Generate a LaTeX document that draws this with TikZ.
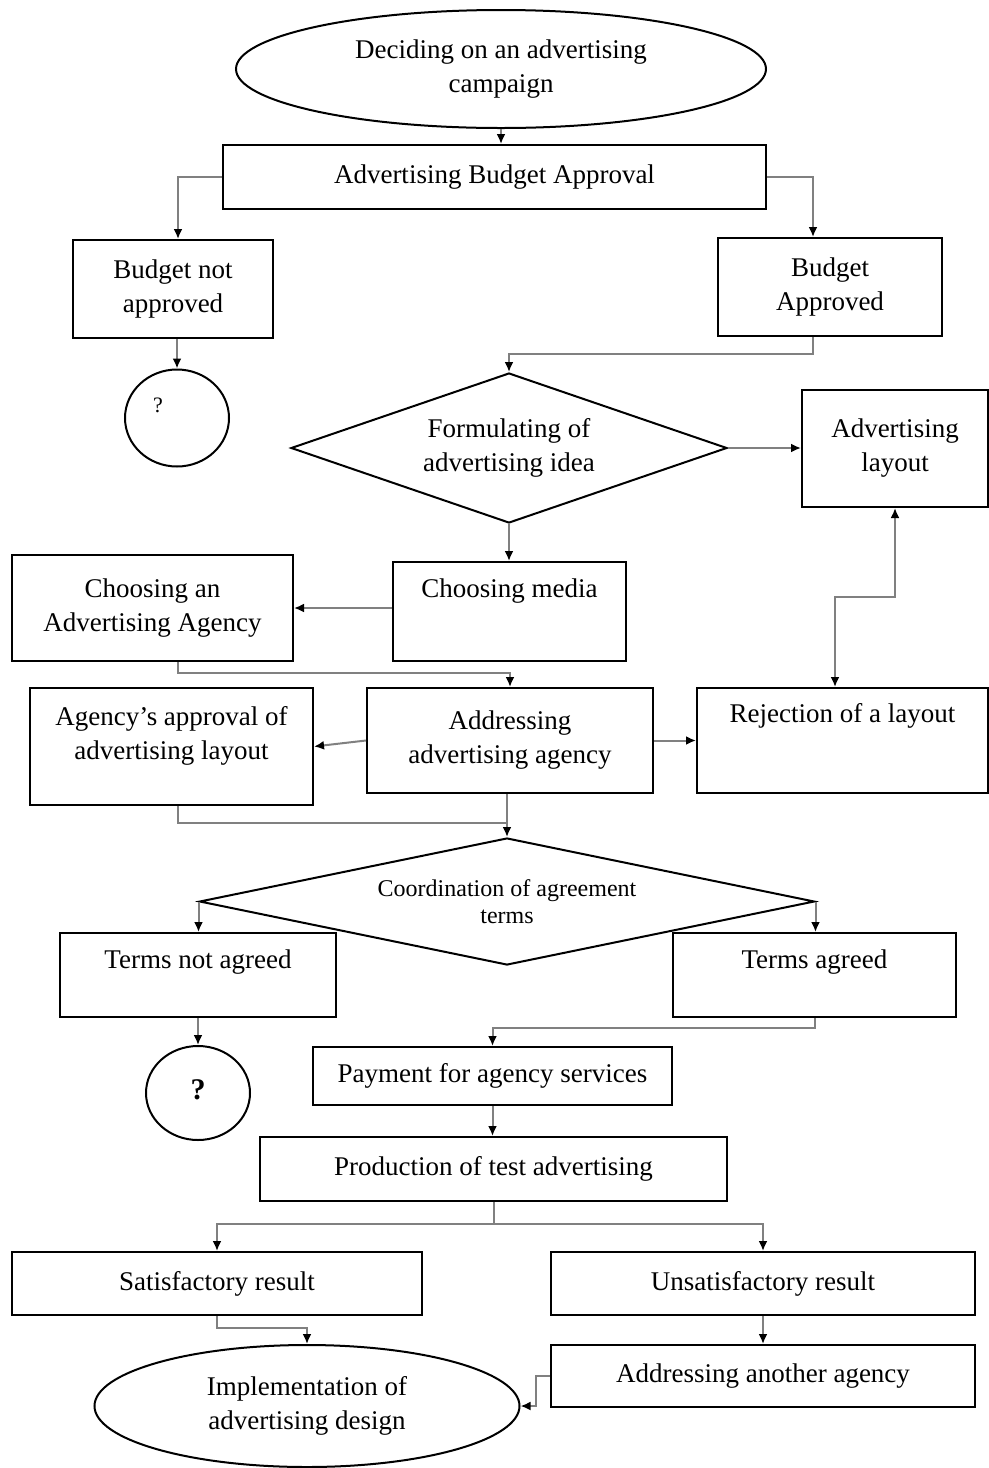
\documentclass[tikz,border=0pt]{standalone}
\usepackage{fontspec}
\setmainfont{Liberation Serif}
\usetikzlibrary{shapes.geometric,arrows.meta,calc}
\begin{document}
\begin{tikzpicture}[x=0.5pt,y=-0.5pt,
  every node/.style={font=\fontsize{13.5}{17}\selectfont, align=center, inner sep=0pt},
  box/.style 2 args={draw=black, line width=1pt, rectangle, minimum width=#1*0.5pt, minimum height=#2*0.5pt},
  ell/.style 2 args={draw=black, line width=1pt, ellipse, minimum width=#1*0.5pt, minimum height=#2*0.5pt},
  dia/.style 2 args={draw=black, line width=1pt, diamond, minimum width=#1*0.5pt, minimum height=#2*0.5pt},
  line/.style={draw=black!50, line width=1pt},
  conn/.style={line, -{Latex[length=5pt,width=4.5pt,color=black]}},
  dconn/.style={line, {Latex[length=5pt,width=4.5pt,color=black]}-{Latex[length=5pt,width=4.5pt,color=black]}}]
\useasboundingbox (0,0) rectangle (989,1468);
\fill[white] (0,0) rectangle (989,1468);

\node[ell={530}{118}] (start) at (501,69) {Deciding on an advertising\\campaign};
\node[box={543}{64}] (aba) at (494.5,177) {Advertising Budget Approval};
\node[box={200}{98}] (bna) at (173,289) {Budget not\\approved};
\node[box={224}{98}] (ba) at (830,287) {Budget\\Approved};
\node[ell={104}{97}] (q1) at (177,418) {};
\node[font=\fontsize{11}{13}\selectfont] (q1t) at (158,405) {?};
\node[dia={436}{150}, aspect=2.9] (d1) at (509,448) {Formulating of\\advertising idea};
\node[box={186}{117}] (al) at (895,448.5) {Advertising\\layout};
\node[box={233}{99}] (cm) at (509.5,611.5) {};
\node (cmt) at (509.5,591) {Choosing media};
\node[box={281}{106}] (caa) at (152.5,608) {Choosing an\\Advertising Agency};
\node[box={286}{105}] (aaa) at (510,740.5) {Addressing\\advertising agency};
\node[box={283}{117}] (aal) at (171.5,746.5) {};
\node (aalt) at (171.5,736) {Agency's approval of\\advertising layout};
\node[box={291}{105}] (rej) at (842.5,740.5) {};
\node (rejt) at (842.5,716) {Rejection of a layout};
\node[dia={615}{127}, aspect=4.8, font=\fontsize{12}{13.5}\selectfont] (d2) at (507,901.5) {Coordination of agreement\\terms};
\node[box={276}{84}] (tna) at (198,975) {};
\node (tnat) at (198,962) {Terms not agreed};
\node[box={283}{84}] (ta) at (814.5,975) {};
\node (tat) at (814.5,962) {Terms agreed};
\node[ell={104}{94}] (q2) at (198,1093) {};
\node[font=\fontsize{15}{17}\selectfont\bfseries] (q2t) at (198,1090) {?};
\node[box={359}{58}] (pay) at (492.5,1076) {Payment for agency services};
\node[box={467}{64}] (prod) at (493.5,1169) {Production of test advertising};
\node[box={410}{63}] (sat) at (217,1283.5) {Satisfactory result};
\node[box={424}{63}] (uns) at (763,1283.5) {Unsatisfactory result};
\node[box={424}{62}] (aan) at (763,1376) {Addressing another agency};
\node[ell={425}{122}] (impl) at (307,1406) {Implementation of\\advertising design};

\draw[conn] (start.south) -- (start.south |- aba.north);
\draw[conn] (aba.west) -| ($(bna.north)+(5,0)$);
\draw[conn] (aba.east) -| ($(ba.north)+(-17,0)$);
\draw[conn] (q1.north |- bna.south) -- (q1.north);
\draw[conn] ($(ba.south)+(-17,0)$) -- ++(0,17) -| (d1.north);
\draw[conn] (d1.east) -- (d1.east -| al.west);
\draw[conn] (d1.south) -- (d1.south |- cm.north);
\draw[conn] (caa.east -| cm.west) -- (caa.east);
\draw[conn] ($(caa.south)+(25,0)$) -- ++(0,11) -| (aaa.north);
\draw[conn] (aaa.west) -- (aal.east);
\draw[conn] (aaa.east) -- (aaa.east -| rej.west);
\draw[dconn] ($(rej.north)+(-7.5,0)$) -- ++(0,-90) -| (al.south);
\draw[conn] (d2.north |- aaa.south) -- (d2.north);
\draw[line] ($(aal.south)+(6.5,0)$) -- ++(0,17) -| ($(d2.north)+(0,-12)$);
\draw[conn] (d2.west) -- (d2.west |- tna.north);
\draw[conn] (d2.east) -- (d2.east |- ta.north);
\draw[conn] (tna.south) -- (q2.north);
\draw[conn] (ta.south) -- ++(0,10) -| (pay.north);
\draw[conn] (pay.south) -- (pay.south |- prod.north);
\draw[conn] (prod.south) -- ++(0,22) -| (sat.north);
\draw[conn] (prod.south) -- ++(0,22) -| (uns.north);
\draw[conn] (sat.south) -- ++(0,12) -| (impl.north);
\draw[conn] (uns.south) -- (aan.north);
\draw[conn] (aan.west) -- ++(-14,0) |- (impl.east);
\end{tikzpicture}
\end{document}
